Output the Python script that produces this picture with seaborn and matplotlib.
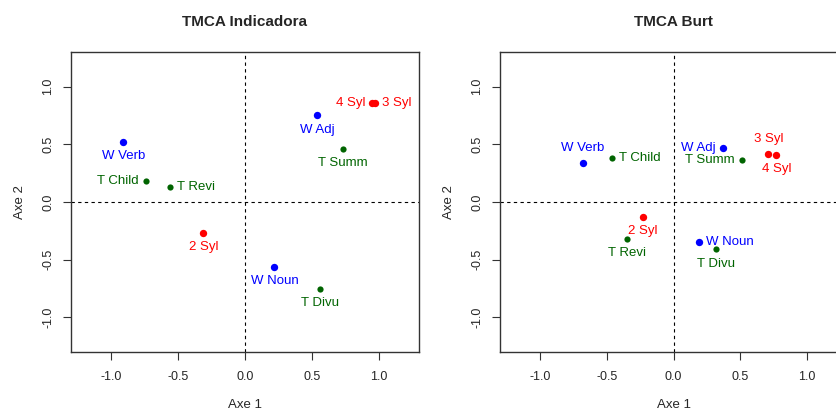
import numpy as np
import pandas as pd
import seaborn as sns
import matplotlib.pyplot as plt

# categories shown in both maps
labels = ['W Verb', 'W Adj', 'W Noun', 'T Child', 'T Revi', 'T Summ', 'T Divu',
          '2 Syl', '3 Syl', '4 Syl']
group = ['W', 'W', 'W', 'T', 'T', 'T', 'T', 'S', 'S', 'S']

# TMCA Indicadora coordinates
ind_x = [-0.91, 0.54, 0.22, -0.74, -0.56, 0.73, 0.56, -0.31, 0.97, 0.95]
ind_y = [0.52, 0.75, -0.56, 0.18, 0.13, 0.46, -0.75, -0.27, 0.86, 0.86]

# TMCA Burt coordinates
burt_x = [-0.68, 0.37, 0.19, -0.46, -0.35, 0.51, 0.32, -0.23, 0.71, 0.77]
burt_y = [0.34, 0.47, -0.35, 0.38, -0.32, 0.36, -0.41, -0.13, 0.42, 0.41]

ticks = [-1.0, -0.5, 0.0, 0.5, 1.0]

palette = {'W': '#0000FF', 'T': '#006400', 'S': '#FF0000'}
sizes = {'W': 28, 'T': 20, 'S': 28}

# label placement like R's text(pos=): 1 below, 2 left, 3 above, 4 right
ind_pos = [1, 1, 1, 2, 4, 1, 1, 1, 4, 2]
burt_pos = [3, 2, 4, 4, 1, 2, 1, 1, 3, 1]
offsets = {1: (0, -6, 'center', 'top'), 2: (-5, 0, 'right', 'center'),
           3: (0, 6, 'center', 'bottom'), 4: (5, 0, 'left', 'center')}

sns.set_style('ticks')
plt.rcParams['font.family'] = ['Liberation Sans', 'DejaVu Sans']

fig = plt.figure(figsize=(8.37, 4.12), dpi=100)
ax1 = fig.add_axes([0.0848, 0.1456, 0.4158, 0.7282])
ax2 = fig.add_axes([0.5974, 0.1456, 0.4146, 0.7282])


def draw(ax, xs, ys, pos, title):
    df = pd.DataFrame({'x': xs, 'y': ys, 'label': labels, 'group': group})
    ax.axhline(0, color='black', lw=0.8, ls=(0, (3, 3)), zorder=1)
    ax.axvline(0, color='black', lw=0.8, ls=(0, (3, 3)), zorder=1)
    for g in ['W', 'T', 'S']:
        sub = df[df.group == g]
        sns.scatterplot(data=sub, x='x', y='y', color=palette[g], s=sizes[g],
                        linewidth=0, ax=ax, zorder=3, legend=False)
    for i, row in df.iterrows():
        dx, dy, ha, va = offsets[pos[i]]
        ax.annotate(row['label'], (row['x'], row['y']), xytext=(dx, dy),
                    textcoords='offset points', ha=ha, va=va,
                    color=palette[row['group']], fontsize=9.5)
    ax.set_xlim(-1.3, 1.3)
    ax.set_ylim(-1.3, 1.3)
    ax.set_xticks(ticks)
    ax.set_yticks(ticks)
    ax.set_xticklabels([f'{t:.1f}' for t in ticks])
    ax.set_yticklabels([f'{t:.1f}' for t in ticks], rotation=90, va='center')
    ax.tick_params(axis='x', length=6, width=0.8, pad=8, labelsize=9, color='#333333')
    ax.tick_params(axis='y', length=6, width=0.8, pad=6, labelsize=9, color='#333333')
    for sp in ax.spines.values():
        sp.set_visible(True)
        sp.set_color('#333333')
        sp.set_linewidth(1)
    ax.set_xlabel('Axe 1', fontsize=9.5, labelpad=11)
    ax.set_ylabel('Axe 2', fontsize=9.5, labelpad=12)
    ax.set_title(title, fontsize=11, fontweight='bold', pad=19)


draw(ax1, ind_x, ind_y, ind_pos, 'TMCA Indicadora')
draw(ax2, burt_x, burt_y, burt_pos, 'TMCA Burt')

fig.savefig('out.png', dpi=100)
